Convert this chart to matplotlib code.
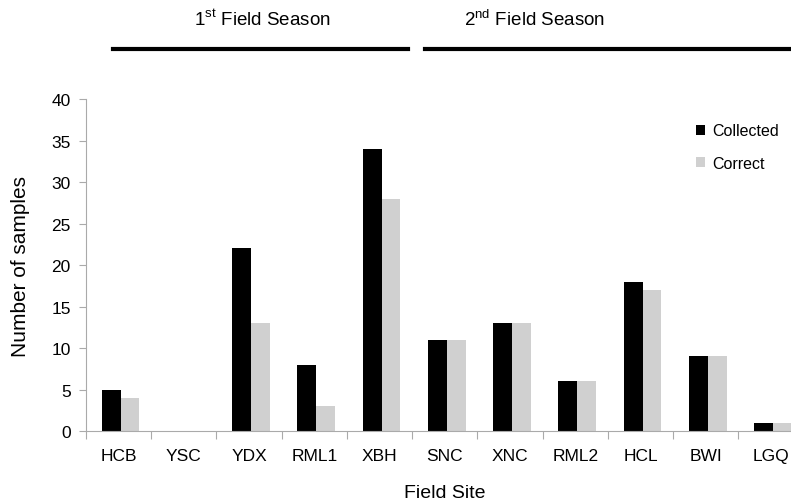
import numpy as np
import matplotlib
matplotlib.use('Agg')
import matplotlib.pyplot as plt
from matplotlib.lines import Line2D

plt.rcParams['font.family'] = ['Liberation Sans', 'DejaVu Sans']
plt.rcParams['mathtext.fontset'] = 'custom'
plt.rcParams['mathtext.rm'] = 'Liberation Sans'

sites = ['HCB', 'YSC', 'YDX', 'RML1', 'XBH', 'SNC', 'XNC', 'RML2', 'HCL', 'BWI', 'LGQ']
collected = [5, 0, 22, 8, 34, 11, 13, 6, 18, 9, 1]
correct = [4, 0, 13, 3, 28, 11, 13, 6, 17, 9, 1]

fig = plt.figure(figsize=(7.91, 5.02), dpi=100)
ax = fig.add_axes([0.1087, 0.1394, 0.9073, 0.6614])

x = np.arange(len(sites))
w = 0.29
ax.bar(x - w/2 + 0.03, collected, w, color='black', label='Collected')
ax.bar(x + w/2 + 0.03, correct, w, color='#d0d0d0', label='Correct')

ax.set_xlim(-0.5, len(sites) - 0.5)
ax.set_ylim(0, 40)
ax.set_yticks(range(0, 41, 5))
ax.set_xticks(x)
ax.set_xticklabels(sites)
ax.set_xticks(np.arange(-0.5, len(sites), 1), minor=True)
ax.tick_params(axis='x', which='major', length=0, pad=12, labelsize=12.5)
ax.tick_params(axis='x', which='minor', length=6, color='#aaaaaa', width=0.8)
ax.tick_params(axis='y', length=5, color='#aaaaaa', width=0.8, labelsize=12.5, pad=6)

for s in ['top', 'right']:
    ax.spines[s].set_visible(False)
for s in ['left', 'bottom']:
    ax.spines[s].set_color('#aaaaaa')
    ax.spines[s].set_linewidth(0.8)

ax.set_xlabel('Field Site', fontsize=14, va='center')
ax.xaxis.set_label_coords(0.5, -0.184)
ax.set_ylabel('Number of samples', fontsize=15, va='center')
ax.yaxis.set_label_coords(-0.091, 0.5)

ax.legend(loc='upper right', bbox_to_anchor=(0.985, 0.97), frameon=False, fontsize=11.5,
          handlelength=0.6, handleheight=0.6, handletextpad=0.4, labelspacing=1.1)

# season headers
fig.text(262/791, 1 - 20/502, r'1$^{\mathrm{st}}$ Field Season', ha='center', va='center', fontsize=13.5)
fig.text(535/791, 1 - 20/502, r'2$^{\mathrm{nd}}$ Field Season', ha='center', va='center', fontsize=13.5)
fig.add_artist(Line2D([113/791, 408/791], [1 - 50/502, 1 - 50/502], color='black', lw=3))
fig.add_artist(Line2D([425/791, 1.0], [1 - 50/502, 1 - 50/502], color='black', lw=3))

fig.savefig('out.png', dpi=100)
